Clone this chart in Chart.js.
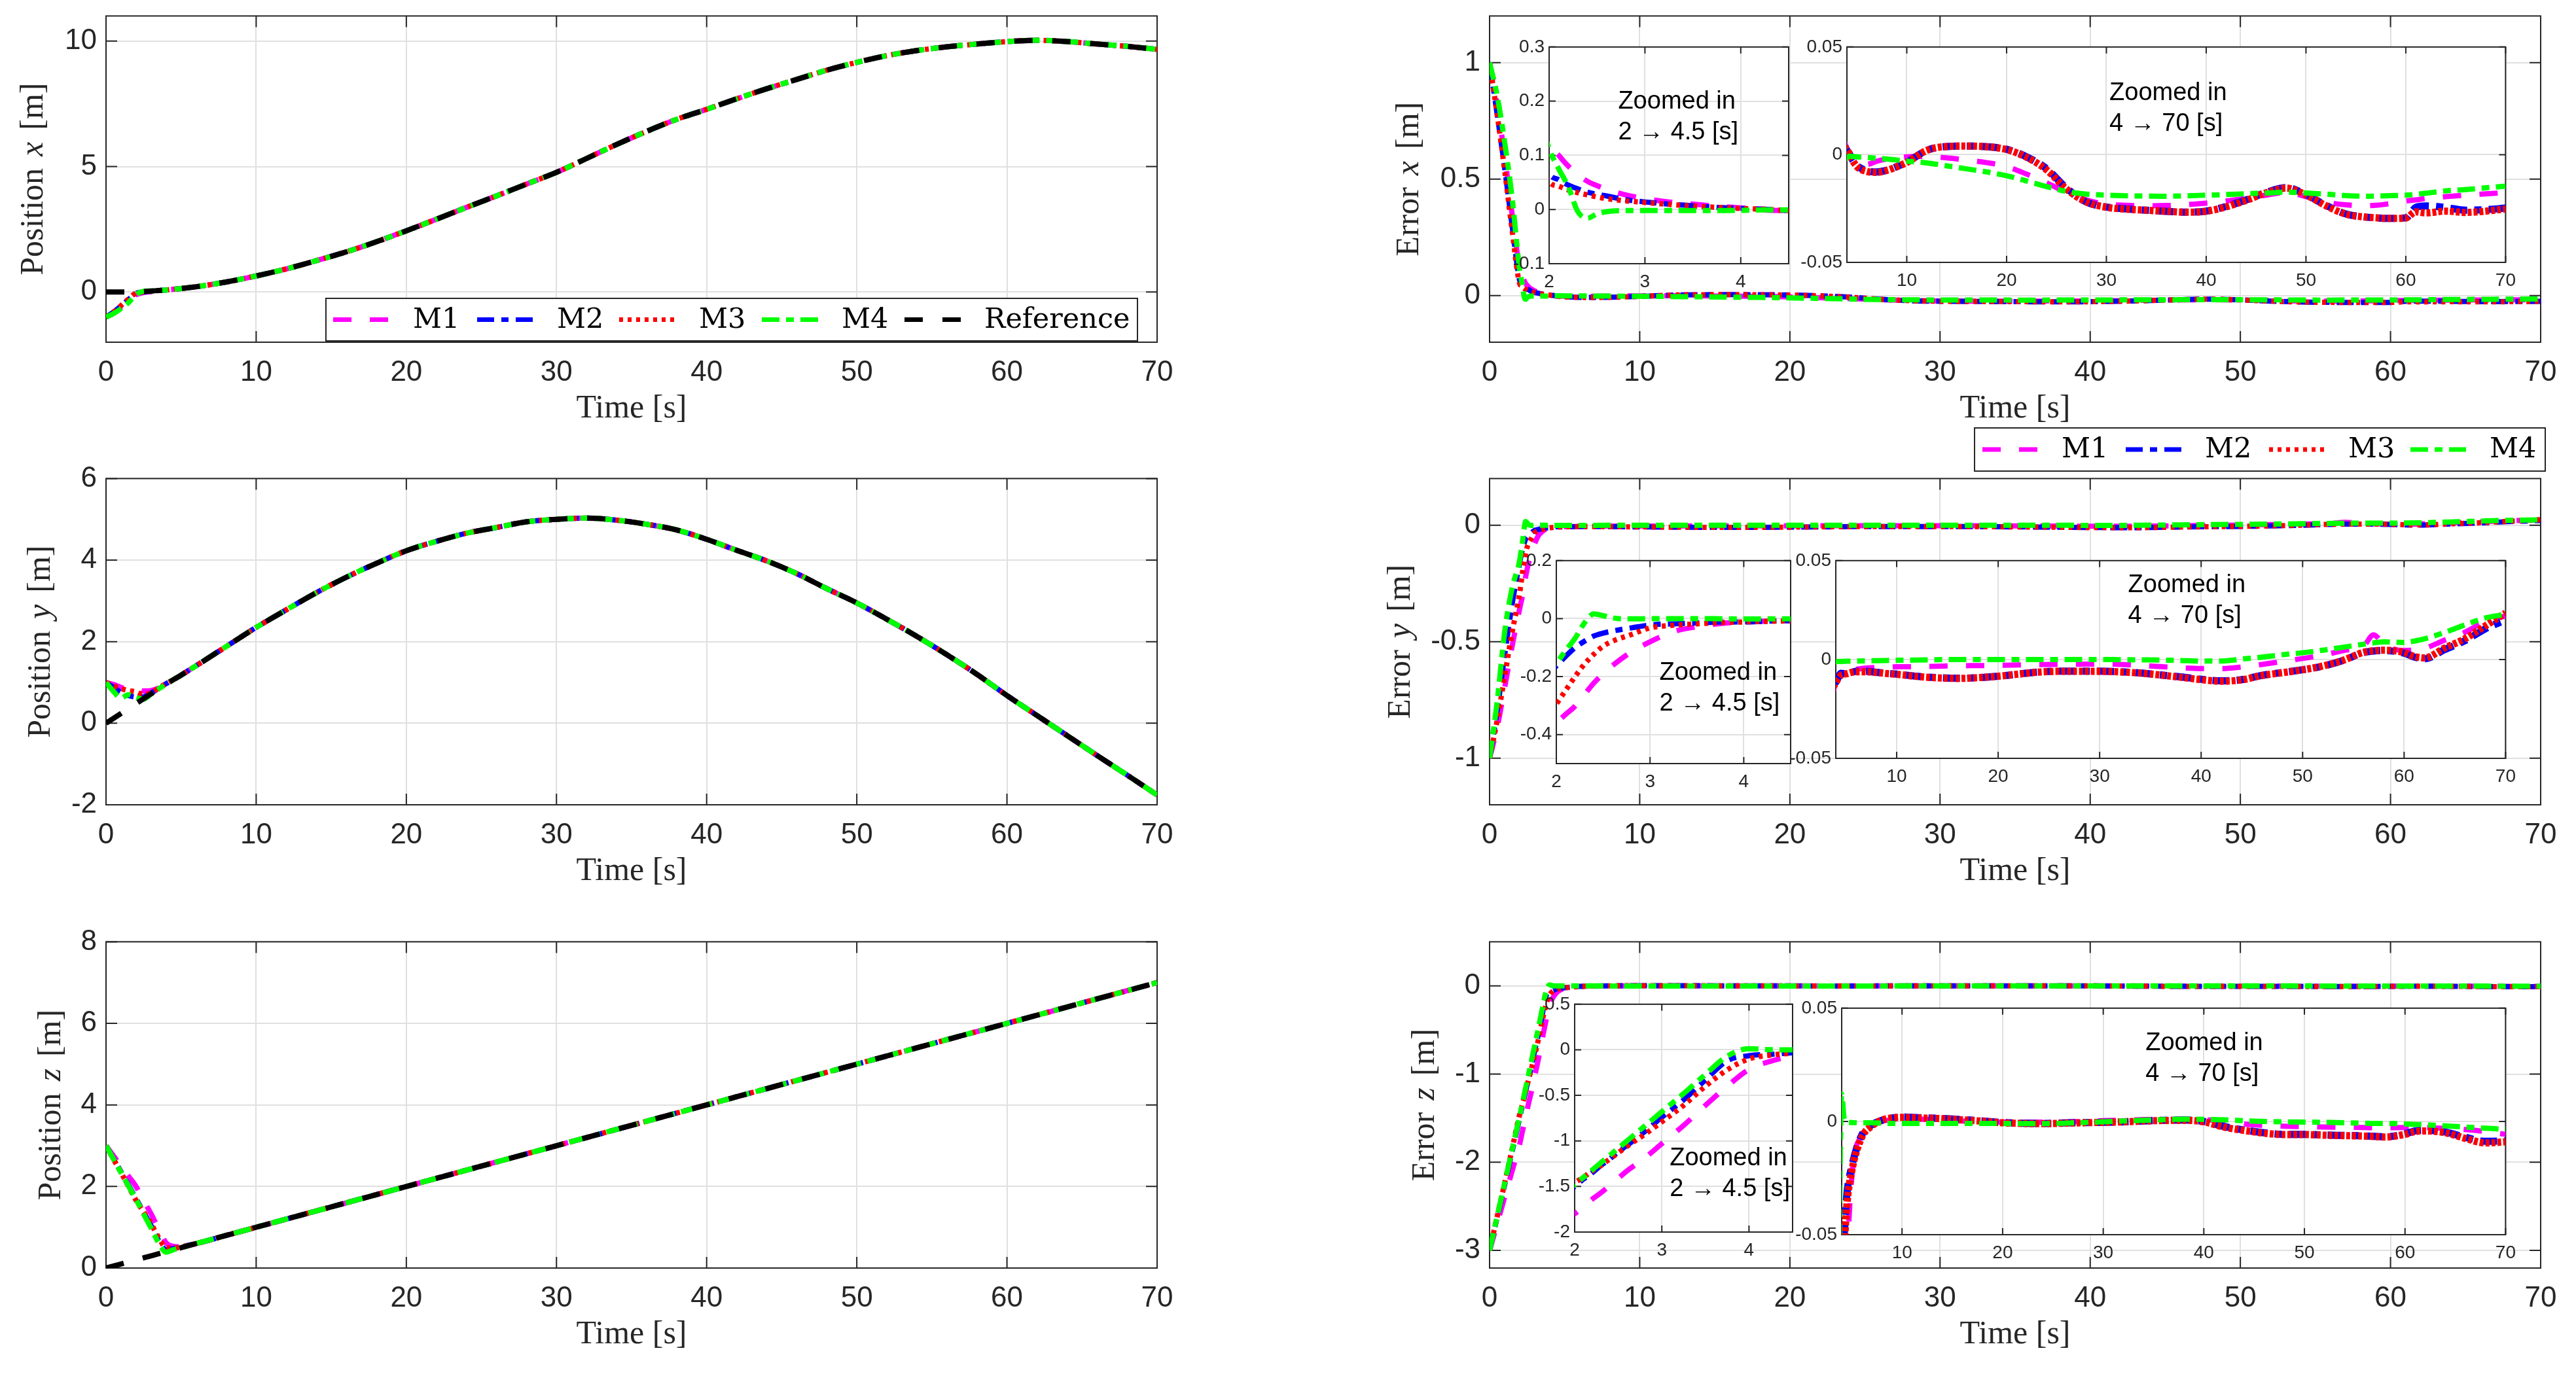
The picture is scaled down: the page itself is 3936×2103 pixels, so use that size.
<!DOCTYPE html>
<html>
<head>
<meta charset="utf-8">
<title>Position and error</title>
<script src="https://cdn.jsdelivr.net/npm/chart.js@4.4.1/dist/chart.umd.min.js"></script>
<style>
  html, body { margin: 0; padding: 0; background: #fff; }
  #fig { position: relative; width: 3936px; height: 2103px; overflow: hidden; background: #fff; }
  canvas { position: absolute; }
</style>
</head>
<body>
<div id="fig"></div>
<script>
// ---- data ----
const tPos = [0,0.5,1,1.5,2,2.5,3,3.5,4,4.5,5,6,8,10,12,14,16,18,20,22,24,26,28,30,32,34,36,38,40,42,44,46,48,50,52,54,56,58,60,62,64,66,68,70];

const refX = [0,0,0,0,0.01,0.02,0.04,0.06,0.08,0.11,0.14,0.21,0.4,0.64,0.92,1.25,1.6,2.0,2.44,2.9,3.37,3.83,4.3,4.77,5.32,5.88,6.4,6.88,7.28,7.7,8.1,8.47,8.84,9.15,9.42,9.62,9.77,9.88,9.98,10.03,9.98,9.88,9.79,9.67];
const refY = [0,0.12,0.24,0.36,0.48,0.6,0.72,0.84,0.96,1.07,1.18,1.41,1.88,2.35,2.78,3.2,3.58,3.92,4.23,4.46,4.66,4.8,4.94,5.0,5.03,4.98,4.88,4.74,4.51,4.24,3.98,3.67,3.3,2.95,2.55,2.13,1.68,1.2,0.68,0.19,-0.3,-0.79,-1.27,-1.76];
const refZ = [0,0.05,0.1,0.15,0.2,0.25,0.3,0.35,0.4,0.45,0.5,0.6,0.8,1,1.2,1.4,1.6,1.8,2,2.2,2.4,2.6,2.8,3,3.2,3.4,3.6,3.8,4,4.2,4.4,4.6,4.8,5,5.2,5.4,5.6,5.8,6,6.2,6.4,6.6,6.8,7];

// start-up part of each model (after that the curves sit on the reference)
const m1XStart = [-1,-0.85,-0.62,-0.32,-0.11,-0.02,0.02];
const m2XStart = [-1,-0.8,-0.55,-0.3,-0.056,0,0.028];
const m3XStart = [-1,-0.8,-0.54,-0.28,-0.04,0,0.028];
const m4XStart = [-1,-0.86,-0.66,-0.42,-0.1,0.03,0.042];

const m1YStart = [1,0.95,0.88,0.84,0.84,0.79,0.8,0.86,0.97];
const m2YStart = [1,0.88,0.75,0.68,0.64,0.65,0.74,0.855,0.97];
const m3YStart = [1,0.92,0.85,0.8,0.77,0.7,0.75,0.86,0.97];
const m4YStart = [1,0.78,0.62,0.7,0.63,0.59,0.72,0.84,0.96];

const m1ZStart = [3,2.75,2.5,2.25,2,1.66,1.33,0.96,0.62,0.53,0.52];
const m2ZStart = [3,2.68,2.36,2.03,1.7,1.37,1.04,0.68,0.45,0.48,0.52];
const m3ZStart = [3,2.67,2.34,2,1.66,1.38,1.09,0.75,0.5,0.49,0.52];
const m4ZStart = [3,2.67,2.34,2.01,1.68,1.33,0.98,0.62,0.39,0.45,0.5];

const tErr = [0,0.5,1,1.5,2,2.1,2.2,2.3,2.4,2.5,2.6,2.8,3,3.25,3.5,3.75,4,4.25,4.5,5,6,7,8,9,10,12,14,16,18,20,22,24,26,28,30,32,34,36,38,40,42,44,46,48,50,52,54,56,57,58,60,61,62,64,66,68,70];

const errX1 = [1,0.82,0.6,0.35,0.12,0.1,0.08,0.065,0.052,0.044,0.037,0.027,0.02,0.014,0.01,0.006,0.003,-0.001,-0.002,-0.003,-0.0045,-0.003,-0.002,-0.0015,-0.001,-0.0008,-0.0015,-0.0025,-0.0037,-0.0055,-0.009,-0.013,-0.0175,-0.021,-0.023,-0.0235,-0.0237,-0.0236,-0.0232,-0.0225,-0.0215,-0.0202,-0.0188,-0.0175,-0.0195,-0.022,-0.0233,-0.0237,-0.0235,-0.023,-0.0215,-0.021,-0.0203,-0.0195,-0.0188,-0.0182,-0.0176];
const errX2 = [1,0.78,0.55,0.3,0.066,0.055,0.045,0.038,0.032,0.028,0.025,0.018,0.014,0.01,0.007,0.004,0.002,0.0005,-0.002,-0.005,-0.0075,-0.008,-0.0072,-0.0055,-0.0035,0.002,0.0038,0.004,0.0037,0.0025,-0.001,-0.0065,-0.0155,-0.022,-0.0243,-0.0252,-0.0258,-0.0263,-0.0267,-0.0262,-0.024,-0.021,-0.0175,-0.0153,-0.0185,-0.0235,-0.0275,-0.029,-0.0293,-0.0296,-0.0293,-0.0245,-0.0238,-0.0245,-0.0258,-0.0255,-0.0248];
const errX3 = [1,0.78,0.54,0.28,0.051,0.043,0.036,0.031,0.027,0.023,0.02,0.016,0.013,0.0095,0.0065,0.004,0.002,0.0005,-0.002,-0.0055,-0.0078,-0.0082,-0.0073,-0.0056,-0.0036,0.002,0.0038,0.004,0.0037,0.0024,-0.0012,-0.007,-0.016,-0.022,-0.0244,-0.0253,-0.0258,-0.0263,-0.0267,-0.0263,-0.0242,-0.0212,-0.0177,-0.0155,-0.0187,-0.0237,-0.0276,-0.029,-0.0293,-0.0296,-0.0294,-0.0265,-0.027,-0.0262,-0.0268,-0.0262,-0.0252];
const errX4 = [1,0.86,0.66,0.42,0.112,0.075,0.042,-0.004,-0.016,-0.008,-0.004,-0.002,-0.002,-0.002,-0.002,-0.002,-0.0015,-0.0007,-0.0008,-0.001,-0.0013,-0.0017,-0.002,-0.0025,-0.003,-0.0038,-0.0052,-0.0066,-0.008,-0.0098,-0.0122,-0.0148,-0.0171,-0.0183,-0.0188,-0.0191,-0.0192,-0.0193,-0.0191,-0.0188,-0.0185,-0.0181,-0.0178,-0.0174,-0.0178,-0.0183,-0.019,-0.0193,-0.0192,-0.0191,-0.0188,-0.0184,-0.0179,-0.0168,-0.0162,-0.0154,-0.0146];

const errY1 = [-1,-0.87,-0.7,-0.52,-0.36,-0.33,-0.302,-0.262,-0.222,-0.19,-0.162,-0.115,-0.08,-0.045,-0.028,-0.017,-0.011,-0.009,-0.008,-0.0065,-0.005,-0.0043,-0.004,-0.0038,-0.0037,-0.0036,-0.0034,-0.0032,-0.0031,-0.003,-0.0028,-0.0026,-0.0025,-0.0024,-0.0023,-0.0025,-0.003,-0.0036,-0.0042,-0.0046,-0.0046,-0.0038,-0.0025,-0.001,0.0005,0.0022,0.0045,0.0068,0.0125,0.0075,0.0045,0.0048,0.0056,0.0098,0.0138,0.0192,0.022];
const errY2 = [-1,-0.8,-0.56,-0.34,-0.163,-0.13,-0.1,-0.078,-0.06,-0.05,-0.043,-0.032,-0.022,-0.018,-0.015,-0.012,-0.0115,-0.009,-0.007,-0.0073,-0.006,-0.006,-0.0065,-0.007,-0.0074,-0.0085,-0.0092,-0.0095,-0.0092,-0.0085,-0.0074,-0.0063,-0.0059,-0.0059,-0.0059,-0.0062,-0.0068,-0.0078,-0.0088,-0.01,-0.0108,-0.0102,-0.008,-0.0066,-0.0052,-0.0034,-0.0005,0.0035,0.0043,0.0045,0.0032,0.0012,0.0003,0.005,0.0095,0.0155,0.02];
const errY3 = [-1,-0.84,-0.65,-0.46,-0.294,-0.247,-0.2,-0.157,-0.123,-0.095,-0.078,-0.055,-0.032,-0.023,-0.018,-0.014,-0.0117,-0.0095,-0.008,-0.0073,-0.0062,-0.0062,-0.0066,-0.0071,-0.0075,-0.0086,-0.0093,-0.0096,-0.0092,-0.0085,-0.0074,-0.0064,-0.006,-0.006,-0.006,-0.0063,-0.0069,-0.0079,-0.009,-0.0102,-0.011,-0.0103,-0.0081,-0.0067,-0.0052,-0.0033,-0.0004,0.0036,0.0044,0.0047,0.0035,0.0015,0.0008,0.0058,0.0105,0.017,0.0235];
const errY4 = [-1,-0.76,-0.46,-0.27,-0.153,-0.11,-0.068,-0.015,0.016,0.01,0.002,-0.001,0,0,0,-0.0005,-0.0012,-0.001,-0.001,-0.0009,-0.0008,-0.0007,-0.0006,-0.0005,-0.0004,-0.0003,-0.0001,0,0,0,0,0,0,0,0,-0.0001,-0.0002,-0.0003,-0.0005,-0.0008,-0.0008,0.0002,0.0012,0.0024,0.0034,0.0047,0.0062,0.0077,0.0084,0.0089,0.0086,0.0093,0.0104,0.0137,0.0175,0.021,0.0228];

const errZ1 = [-3,-2.7,-2.4,-2.1,-1.8,-1.72,-1.64,-1.57,-1.49,-1.41,-1.33,-1.19,-1.03,-0.83,-0.61,-0.4,-0.215,-0.125,-0.07,-0.025,-0.006,-0.0015,0,0.0008,0.001,0.001,0.0006,0.0002,-0.0003,-0.0003,-0.0003,-0.0003,-0.0003,0,0.0003,0.0006,0.0008,0.0009,0.001,0.0007,0.0002,-0.0012,-0.0017,-0.0021,-0.0023,-0.0025,-0.0026,-0.0027,-0.0028,-0.0028,-0.0027,-0.0026,-0.0027,-0.0031,-0.0036,-0.0045,-0.0057];
const errZ2 = [-3,-2.63,-2.26,-1.88,-1.5,-1.42,-1.35,-1.27,-1.2,-1.12,-1.05,-0.9,-0.74,-0.55,-0.33,-0.12,-0.065,-0.05,-0.033,-0.02,-0.006,-0.0015,0.0005,0.0015,0.0019,0.0016,0.0013,0.0008,0.0002,-0.0005,-0.0008,-0.0009,-0.0007,-0.0005,-0.0004,-0.0002,0.0002,0.0005,0.0006,0,-0.0022,-0.0038,-0.005,-0.0057,-0.0057,-0.006,-0.0062,-0.0064,-0.0066,-0.0068,-0.0055,-0.0042,-0.0039,-0.0047,-0.007,-0.0088,-0.0086];
const errZ3 = [-3,-2.62,-2.24,-1.85,-1.46,-1.4,-1.33,-1.27,-1.2,-1.13,-1.06,-0.93,-0.79,-0.61,-0.4,-0.22,-0.1,-0.058,-0.038,-0.022,-0.007,-0.002,0.0006,0.0015,0.0018,0.0015,0.0012,0.0007,0.0001,-0.0006,-0.0009,-0.001,-0.0008,-0.0006,-0.0004,-0.0002,0.0002,0.0004,0.0005,-0.0002,-0.0025,-0.004,-0.0052,-0.0058,-0.0058,-0.0061,-0.0063,-0.0065,-0.0067,-0.0069,-0.0057,-0.0045,-0.0042,-0.005,-0.0075,-0.0095,-0.009];
const errZ4 = [-3,-2.62,-2.24,-1.86,-1.48,-1.4,-1.32,-1.24,-1.16,-1.08,-1,-0.84,-0.68,-0.48,-0.27,-0.07,0.012,0.001,-0.0003,-0.0005,-0.0006,-0.0006,-0.0008,-0.0009,-0.0009,-0.0009,-0.0009,-0.0009,-0.0009,-0.0009,-0.001,-0.001,-0.0008,-0.0005,-0.0002,0.0002,0.0005,0.0008,0.001,0.0009,0.0007,0.0003,0,-0.0002,-0.0003,-0.0004,-0.0006,-0.0008,-0.0009,-0.0009,-0.0011,-0.0013,-0.0015,-0.002,-0.0025,-0.003,-0.0035];

// tick labels
const timeTicks = [0,10,20,30,40,50,60,70];
const posXTicks = [0,5,10];
const posYTicks = [-2,0,2,4,6];
const posZTicks = [0,2,4,6,8];
const errXTicks = [0,0.5,1];
const errYTicks = [-1,-0.5,0];
const errZTicks = [-3,-2,-1,0];
const zoomShortTicks = [2,3,4];
const zoomLongTicks = [10,20,30,40,50,60,70];
const zoomXShortY = [-0.1,0,0.1,0.2,0.3];
const zoomYShortY = [-0.4,-0.2,0,0.2];
const zoomZShortY = [-2,-1.5,-1,-0.5,0,0.5];
const zoomLongY = [-0.05,0,0.05];

const labels = ['M1', 'M2', 'M3', 'M4'];

// ---- styles ----
const INK = '#262626';
const GRID = '#e0e0e0';
const SERIF = '"Liberation Serif", "Times New Roman", serif';
const SANS = '"Liberation Sans", Arial, sans-serif';
const COLORS = { M1: '#ff00ff', M2: '#0000ff', M3: '#ff0000', M4: '#00ff00', Reference: '#000000' };
const DASHES = { M1: [28, 28], M2: [26, 11, 11, 11], M3: [6, 7], M4: [27, 10, 12, 10], Reference: [28, 30] };
const ORDER = { Reference: 0, M4: 1, M3: 2, M2: 3, M1: 4 };

Chart.defaults.font.family = SANS;
Chart.defaults.color = INK;

const fig = document.getElementById('fig');

function series(label, t, y, heavy) {
  // in the long zoom windows the noisy M2/M3 traces read as thick, nearly solid strokes
  const thick = heavy && (label === 'M2' || label === 'M3');
  return {
    label,
    data: t.map((v, i) => ({ x: v, y: y[i] })),
    borderColor: COLORS[label],
    backgroundColor: COLORS[label],
    borderWidth: thick ? 11 : 8,
    borderDash: thick && label === 'M3' ? [6, 3] : DASHES[label],
    borderCapStyle: 'butt',
    pointRadius: 0,
    fill: false,
    cubicInterpolationMode: 'monotone',
    clip: 0,
    order: ORDER[label]
  };
}

// ---- plugins ----
// white axes background, box on all sides, ticks pointing inwards (MATLAB look)
const matlabAxes = {
  id: 'matlabAxes',
  beforeDraw(chart, args, o) {
    if (!o.fill) return;
    const a = chart.chartArea, ctx = chart.ctx;
    ctx.save();
    ctx.fillStyle = '#fff';
    ctx.fillRect(a.left, a.top, a.right - a.left, a.bottom - a.top);
    ctx.restore();
  },
  beforeDatasetsDraw(chart, args, o) {
    const { ctx, chartArea: a, scales: { x, y } } = chart;
    ctx.save();
    ctx.strokeStyle = INK;
    ctx.lineWidth = 2;
    ctx.beginPath();
    x.ticks.forEach(tk => {
      const px = x.getPixelForValue(tk.value);
      ctx.moveTo(px, a.bottom); ctx.lineTo(px, a.bottom - o.len);
      ctx.moveTo(px, a.top); ctx.lineTo(px, a.top + o.len);
    });
    y.ticks.forEach(tk => {
      const py = y.getPixelForValue(tk.value);
      ctx.moveTo(a.left, py); ctx.lineTo(a.left + o.len, py);
      ctx.moveTo(a.right, py); ctx.lineTo(a.right - o.len, py);
    });
    ctx.stroke();
    ctx.strokeRect(a.left, a.top, a.right - a.left, a.bottom - a.top);
    ctx.restore();
  }
};

// rotated y label with an italic variable: "Position x [m]"
const yTitle = {
  id: 'yTitle',
  afterDraw(chart, args, o) {
    if (!o.parts) return;
    const { ctx, chartArea: a } = chart;
    const fonts = o.parts.map((p, i) => `${i === 1 ? 'italic ' : ''}50px ${SERIF}`);
    ctx.save();
    const widths = o.parts.map((p, i) => { ctx.font = fonts[i]; return ctx.measureText(p).width; });
    const total = widths.reduce((s, w) => s + w, 0) + 18 * (o.parts.length - 1);
    ctx.translate(a.left - o.offset, (a.top + a.bottom) / 2);
    ctx.rotate(-Math.PI / 2);
    ctx.fillStyle = INK;
    ctx.textBaseline = 'middle';
    ctx.textAlign = 'left';
    let x = -total / 2;
    o.parts.forEach((p, i) => { ctx.font = fonts[i]; ctx.fillText(p, x, 0); x += widths[i] + 18; });
    ctx.restore();
  }
};

// boxed horizontal legend; box and item positions in page pixels
const boxLegend = {
  id: 'boxLegend',
  afterDraw(chart, args, o) {
    if (!o.box) return;
    const ctx = chart.ctx;
    const ox = o.origin[0], oy = o.origin[1];
    const b = o.box;
    ctx.save();
    ctx.fillStyle = '#fff';
    ctx.fillRect(b.l - ox, b.t - oy, b.r - b.l, b.b - b.t);
    ctx.strokeStyle = INK;
    ctx.lineWidth = 2;
    ctx.strokeRect(b.l - ox, b.t - oy, b.r - b.l, b.b - b.t);
    const cy = (b.t + b.b) / 2 - oy;
    chart.data.datasets.forEach((ds, i) => {
      const x0 = o.items[i] - ox;
      ctx.beginPath();
      ctx.setLineDash(DASHES[ds.label]);
      ctx.lineWidth = 7;
      ctx.strokeStyle = ds.borderColor;
      ctx.moveTo(x0, cy);
      ctx.lineTo(x0 + o.len, cy);
      ctx.stroke();
      ctx.setLineDash([]);
      ctx.fillStyle = '#000';
      ctx.font = '43px "DejaVu Serif", serif';
      ctx.textBaseline = 'middle';
      ctx.fillText(ds.label, x0 + o.textGap, cy + 1);
    });
    ctx.restore();
  }
};

// "Zoomed in" notes, anchored in data coordinates
const notes = {
  id: 'notes',
  afterDraw(chart, args, o) {
    if (!o.at) return;
    const { ctx, scales: { x, y } } = chart;
    const px = x.getPixelForValue(o.at[0]), py = y.getPixelForValue(o.at[1]);
    ctx.save();
    ctx.fillStyle = '#000';
    ctx.font = `38px ${SANS}`;
    ctx.textBaseline = 'middle';
    ctx.textAlign = 'left';
    o.lines.forEach((s, i) => ctx.fillText(s, px, py + i * 47));
    ctx.restore();
  }
};

// ---- one axes = one chart on its own canvas ----
function makeAxes(spec) {
  const big = !spec.inset;
  const m = big ? { l: 175, t: 40, r: 50, b: 140 } : { l: 90, t: 22, r: 24, b: 50 };
  const extra = spec.extraBottom || 0;
  const { l, t, r, b } = spec.box;
  const W = r - l + m.l + m.r, H = b - t + m.t + m.b + extra;
  const ox = l - m.l, oy = t - m.t;
  const cv = document.createElement('canvas');
  cv.width = W; cv.height = H;
  cv.style.left = ox + 'px'; cv.style.top = oy + 'px';
  cv.style.width = W + 'px'; cv.style.height = H + 'px';
  fig.appendChild(cv);

  const legend = spec.legend ? Object.assign({ origin: [ox, oy] }, spec.legend) : {};
  const tickFont = { family: SANS, size: big ? 44 : 28 };
  return new Chart(cv, {
    type: 'line',
    data: { datasets: spec.datasets },
    options: {
      responsive: false,
      animation: false,
      devicePixelRatio: 1,
      events: [],
      layout: { padding: { left: 0, top: m.t, right: m.r, bottom: extra } },
      scales: {
        x: {
          type: 'linear', min: spec.xr[0], max: spec.xr[1],
          afterBuildTicks: s => { s.ticks = spec.xt.map(v => ({ value: v })); },
          afterFit: s => { s.height = m.b; },
          grid: { color: GRID, lineWidth: 2, drawTicks: false },
          border: { display: false },
          ticks: { font: tickFont, color: INK, padding: big ? 20 : 11, maxRotation: 0, autoSkip: false, callback: v => String(v) },
          title: big
            ? { display: true, text: 'Time [s]', color: INK, font: { family: SERIF, size: 50 }, padding: { top: 0, bottom: 8 } }
            : { display: false }
        },
        y: {
          type: 'linear', min: spec.yr[0], max: spec.yr[1],
          afterBuildTicks: s => { s.ticks = spec.yt.map(v => ({ value: v })); },
          afterFit: s => { s.width = m.l; },
          grid: { color: GRID, lineWidth: 2, drawTicks: false },
          border: { display: false },
          ticks: { font: tickFont, color: INK, padding: big ? 14 : 7, autoSkip: false, callback: v => String(v) }
        }
      },
      plugins: {
        legend: { display: false },
        tooltip: { enabled: false },
        matlabAxes: { fill: !big, len: big ? 17 : 10 },
        yTitle: spec.ytitle ? { parts: spec.ytitle, offset: spec.ytitleOffset } : {},
        boxLegend: legend,
        notes: spec.note || {}
      }
    },
    plugins: [matlabAxes, yTitle, boxLegend, notes]
  });
}

function modelsAndRef(starts, ref) {
  const sets = labels.map((lb, i) => series(lb, tPos, starts[i].concat(ref.slice(starts[i].length))));
  sets.push(series('Reference', tPos, ref));
  return sets;
}
function errorSets(arrs, heavy) {
  return labels.map((lb, i) => series(lb, tErr, arrs[i], heavy));
}

// ---- left column: positions ----
makeAxes({
  box: { l: 162, t: 24, r: 1768, b: 523 }, xr: [0, 70], xt: timeTicks, yr: [-2, 11], yt: posXTicks,
  datasets: modelsAndRef([m1XStart, m2XStart, m3XStart, m4XStart], refX),
  ytitle: ['Position', 'x', '[m]'], ytitleOffset: 110,
  legend: { box: { l: 498, t: 456, r: 1738, b: 521 }, items: [509, 729, 946, 1164, 1382], len: 87, textGap: 122 }
});
makeAxes({
  box: { l: 162, t: 731, r: 1768, b: 1230 }, xr: [0, 70], xt: timeTicks, yr: [-2, 6], yt: posYTicks,
  datasets: modelsAndRef([m1YStart, m2YStart, m3YStart, m4YStart], refY),
  ytitle: ['Position', 'y', '[m]'], ytitleOffset: 99
});
makeAxes({
  box: { l: 162, t: 1439, r: 1768, b: 1938 }, xr: [0, 70], xt: timeTicks, yr: [0, 8], yt: posZTicks,
  datasets: modelsAndRef([m1ZStart, m2ZStart, m3ZStart, m4ZStart], refZ),
  ytitle: ['Position', 'z', '[m]'], ytitleOffset: 83
});

// ---- right column: errors with two zoomed insets each ----
const ex = [errX1, errX2, errX3, errX4];
const ey = [errY1, errY2, errY3, errY4];
const ez = [errZ1, errZ2, errZ3, errZ4];

makeAxes({
  box: { l: 2276, t: 24, r: 3882, b: 523 }, xr: [0, 70], xt: timeTicks, yr: [-0.2, 1.2], yt: errXTicks,
  datasets: errorSets(ex), extraBottom: 70,
  ytitle: ['Error', 'x', '[m]'], ytitleOffset: 122,
  legend: { box: { l: 3017, t: 654, r: 3889, b: 720 }, items: [3029, 3248, 3467, 3683], len: 85, textGap: 121 }
});
makeAxes({
  box: { l: 2276, t: 731, r: 3882, b: 1230 }, xr: [0, 70], xt: timeTicks, yr: [-1.2, 0.2], yt: errYTicks,
  datasets: errorSets(ey),
  ytitle: ['Error', 'y', '[m]'], ytitleOffset: 135
});
makeAxes({
  box: { l: 2276, t: 1439, r: 3882, b: 1938 }, xr: [0, 70], xt: timeTicks, yr: [-3.2, 0.5], yt: errZTicks,
  datasets: errorSets(ez),
  ytitle: ['Error', 'z', '[m]'], ytitleOffset: 98
});

// insets
makeAxes({ inset: true, box: { l: 2367, t: 70, r: 2733, b: 403 }, xr: [2, 4.5], xt: zoomShortTicks, yr: [-0.1, 0.3], yt: zoomXShortY,
  datasets: errorSets(ex), note: { at: [2.72, 0.199], lines: ['Zoomed in', '2 \u2192 4.5 [s]'] } });
makeAxes({ inset: true, box: { l: 2822, t: 70, r: 3831, b: 401 }, xr: [4, 70], xt: zoomLongTicks, yr: [-0.05, 0.05], yt: zoomLongY,
  datasets: errorSets(ex, true), note: { at: [30.3, 0.0285], lines: ['Zoomed in', '4 \u2192 70 [s]'] } });
makeAxes({ inset: true, box: { l: 2378, t: 855, r: 2736, b: 1167 }, xr: [2, 4.5], xt: zoomShortTicks, yr: [-0.5, 0.2], yt: zoomYShortY,
  datasets: errorSets(ey), note: { at: [3.1, -0.188], lines: ['Zoomed in', '2 \u2192 4.5 [s]'] } });
makeAxes({ inset: true, box: { l: 2805, t: 855, r: 3831, b: 1159 }, xr: [4, 70], xt: zoomLongTicks, yr: [-0.05, 0.05], yt: zoomLongY,
  datasets: errorSets(ey, true), note: { at: [32.8, 0.0375], lines: ['Zoomed in', '4 \u2192 70 [s]'] } });
makeAxes({ inset: true, box: { l: 2406, t: 1533, r: 2739, b: 1883 }, xr: [2, 4.5], xt: zoomShortTicks, yr: [-2, 0.5], yt: zoomZShortY,
  datasets: errorSets(ez), note: { at: [3.09, -1.19], lines: ['Zoomed in', '2 \u2192 4.5 [s]'] } });
makeAxes({ inset: true, box: { l: 2814, t: 1539, r: 3831, b: 1887 }, xr: [4, 70], xt: zoomLongTicks, yr: [-0.05, 0.05], yt: zoomLongY,
  datasets: errorSets(ez, true), note: { at: [34.2, 0.0345], lines: ['Zoomed in', '4 \u2192 70 [s]'] } });
</script>
</body>
</html>
